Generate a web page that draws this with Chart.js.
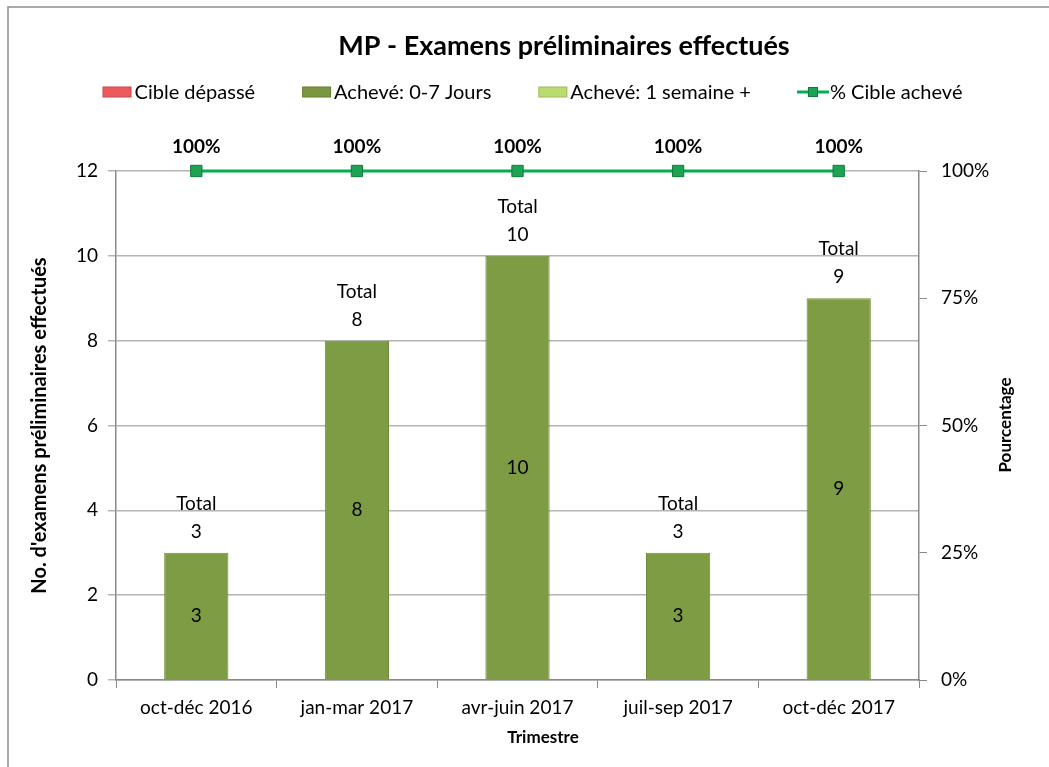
<!DOCTYPE html>
<html><head><meta charset="utf-8">
<script src="https://cdn.jsdelivr.net/npm/chart.js@4/dist/chart.umd.min.js"></script>
<style>html,body{margin:0;padding:0;background:#fff;overflow:hidden}#wrap{position:relative;width:1049px;height:767px}</style>
</head><body><div id="wrap"><canvas id="c" width="1049" height="767"></canvas></div>
<script>
const chartTitle = 'MP - Examens préliminaires effectués';
const categories = ['oct-déc 2016', 'jan-mar 2017', 'avr-juin 2017', 'juil-sep 2017', 'oct-déc 2017'];
const cibleDepasse = [0, 0, 0, 0, 0];
const acheve07 = [3, 8, 10, 3, 9];
const acheve1sem = [0, 0, 0, 0, 0];
const pctCibleAcheve = [100, 100, 100, 100, 100];
const leftTicks = [0, 2, 4, 6, 8, 10, 12];
const rightTicks = [0, 25, 50, 75, 100];
const seriesNames = ['Cible dépassé', 'Achevé: 0-7 Jours', 'Achevé: 1 semaine +', '% Cible achevé'];
const axisTitles = { x: 'Trimestre', y: "No. d'examens préliminaires effectués", y2: 'Pourcentage' };

const FONT = 'Lato, "Liberation Sans", sans-serif';
const C_RED = '#e6474a', C_OLIVE = '#7e9c44', C_LIGHT = '#b4d86a', C_LINE = '#00b050';

const framePlugin = {
  id: 'frame',
  beforeDraw(chart) {
    const ctx = chart.ctx;
    ctx.save();
    ctx.fillStyle = '#fff';
    ctx.fillRect(0, 0, chart.width, chart.height);
    ctx.strokeStyle = '#8e8e8e';
    ctx.lineWidth = 1.5;
    ctx.beginPath();
    ctx.moveTo(8, chart.height);
    ctx.lineTo(8, 7);
    ctx.lineTo(chart.width, 7);
    ctx.stroke();
    ctx.restore();
  }
};

function legendSwatch(ctx, ds, x, y) {
  if (ds.type === 'line') {
    ctx.strokeStyle = C_LINE; ctx.lineWidth = 3;
    ctx.beginPath(); ctx.moveTo(x, y); ctx.lineTo(x + 32, y); ctx.stroke();
    ctx.fillStyle = '#1ea354'; ctx.strokeStyle = '#0d7a3a'; ctx.lineWidth = 1;
    ctx.fillRect(x + 11, y - 5, 10, 10); ctx.strokeRect(x + 11.5, y - 4.5, 9, 9);
  } else {
    ctx.fillStyle = ds.legendColor;
    ctx.fillRect(x + 1, y - 5.5, 29, 11);
    ctx.strokeStyle = 'rgba(0,0,0,0.15)'; ctx.lineWidth = 1;
    ctx.strokeRect(x + 1.5, y - 5, 28, 10);
  }
}

const textPlugin = {
  id: 'textPlugin',
  afterDraw(chart) {
    const ctx = chart.ctx;
    ctx.save();
    // title
    ctx.fillStyle = '#000';
    ctx.textAlign = 'center';
    ctx.textBaseline = 'middle';
    ctx.font = 'bold 27px ' + FONT;
    ctx.fillText(chartTitle, 564, 46);
    // legend
    ctx.font = '20px ' + FONT;
    ctx.textAlign = 'left';
    const items = chart.data.datasets.map(ds => ({ ds, w: 33 + ctx.measureText(ds.label).width }));
    const gap = 46;
    const total = items.reduce((s, it) => s + it.w, 0) + gap * (items.length - 1);
    let x = 532 - total / 2;
    const y = 92;
    items.forEach(it => {
      legendSwatch(ctx, it.ds, x, y);
      ctx.fillStyle = '#000';
      ctx.fillText(it.ds.label, x + 33, y + 1);
      x += it.w + gap;
    });
    ctx.restore();
  }
};

const labelsPlugin = {
  id: 'valueLabels',
  afterDatasetsDraw(chart) {
    const ctx = chart.ctx;
    const yScale = chart.scales.y;
    ctx.save();
    ctx.fillStyle = '#000';
    ctx.textAlign = 'center';
    ctx.textBaseline = 'middle';
    ctx.font = '19px ' + FONT;
    chart.data.datasets.forEach((ds, di) => {
      if (ds.type === 'line') return;
      const meta = chart.getDatasetMeta(di);
      meta.data.forEach((el, i) => {
        const v = ds.data[i];
        if (!v) return;
        ctx.fillText(String(v), el.x, (el.y + el.base) / 2);
      });
    });
    const barMeta = chart.getDatasetMeta(1);
    categories.forEach((c, i) => {
      const tot = cibleDepasse[i] + acheve07[i] + acheve1sem[i];
      const top = yScale.getPixelForValue(tot);
      const x = barMeta.data[i].x;
      ctx.fillText('Total', x, top - 49);
      ctx.fillText(String(tot), x, top - 21);
    });
    ctx.font = 'bold 19px ' + FONT;
    const lm = chart.getDatasetMeta(3);
    lm.data.forEach((el, i) => {
      ctx.fillText(pctCibleAcheve[i] + '%', el.x, el.y - 24);
    });
    ctx.font = 'bold 17px ' + FONT;
    ctx.fillText(axisTitles.x, 543, 738);
    ctx.translate(1006, 425);
    ctx.rotate(-Math.PI / 2);
    ctx.fillText(axisTitles.y2, 0, 0);
    ctx.restore();
  }
};

new Chart(document.getElementById('c'), {
  data: {
    labels: categories,
    datasets: [
      { type: 'bar', label: seriesNames[0], data: cibleDepasse, backgroundColor: C_RED, legendColor: '#ec5a5c', stack: 's', yAxisID: 'y', order: 2 },
      { type: 'bar', label: seriesNames[1], data: acheve07, backgroundColor: C_OLIVE, borderColor: '#6d8a38', borderWidth: 1, legendColor: '#7a963e', stack: 's', yAxisID: 'y', order: 2 },
      { type: 'bar', label: seriesNames[2], data: acheve1sem, backgroundColor: C_LIGHT, legendColor: '#b9dc70', stack: 's', yAxisID: 'y', order: 2 },
      { type: 'line', label: seriesNames[3], data: pctCibleAcheve, yAxisID: 'y2', borderColor: C_LINE, borderWidth: 3, clip: false,
        pointStyle: 'rect', pointRadius: 8, pointBackgroundColor: '#1ea354', pointBorderColor: '#0d7a3a', pointBorderWidth: 1, order: 0, tension: 0 }
    ]
  },
  options: {
    responsive: false,
    devicePixelRatio: 1,
    animation: false,
    layout: { padding: { top: 171, left: 0, right: 0, bottom: 0 } },
    datasets: { bar: { categoryPercentage: 1, barPercentage: 0.4 } },
    plugins: {
      legend: { display: false },
      tooltip: { enabled: false },
      title: { display: false }
    },
    scales: {
      x: {
        stacked: true,
        grid: { offset: true, drawOnChartArea: false, drawTicks: true, tickLength: 8, color: '#8a8a8a' },
        border: { color: '#8a8a8a', width: 1.5 },
        ticks: { color: '#000', font: { family: FONT, size: 19 }, padding: 8 },
        afterFit: s => { s.height = 87; }
      },
      y: {
        stacked: true, min: 0, max: 12,
        afterBuildTicks: s => { s.ticks = leftTicks.map(v => ({ value: v })); },
        grid: { color: '#b4b4b4', tickLength: 8, lineWidth: 1.5 },
        border: { color: '#8a8a8a', width: 1.5 },
        ticks: { color: '#000', font: { family: FONT, size: 19 }, padding: 10 },
        title: { display: true, text: axisTitles.y, color: '#000', font: { family: FONT, size: 20, weight: 'bold', lineHeight: 1.2 }, padding: { top: 28, bottom: 0 } },
        afterFit: s => { s.width = 116; }
      },
      y2: {
        position: 'right', min: 0, max: 100,
        afterBuildTicks: s => { s.ticks = rightTicks.map(v => ({ value: v })); },
        grid: { drawOnChartArea: false, tickLength: 8, color: '#8a8a8a' },
        border: { color: '#8a8a8a', width: 1.5 },
        ticks: { color: '#000', font: { family: FONT, size: 19 }, padding: 14, callback: v => v + '%' },
        afterFit: s => { s.width = 130; }
      }
    }
  },
  plugins: [framePlugin, labelsPlugin, textPlugin]
});
</script></body></html>
